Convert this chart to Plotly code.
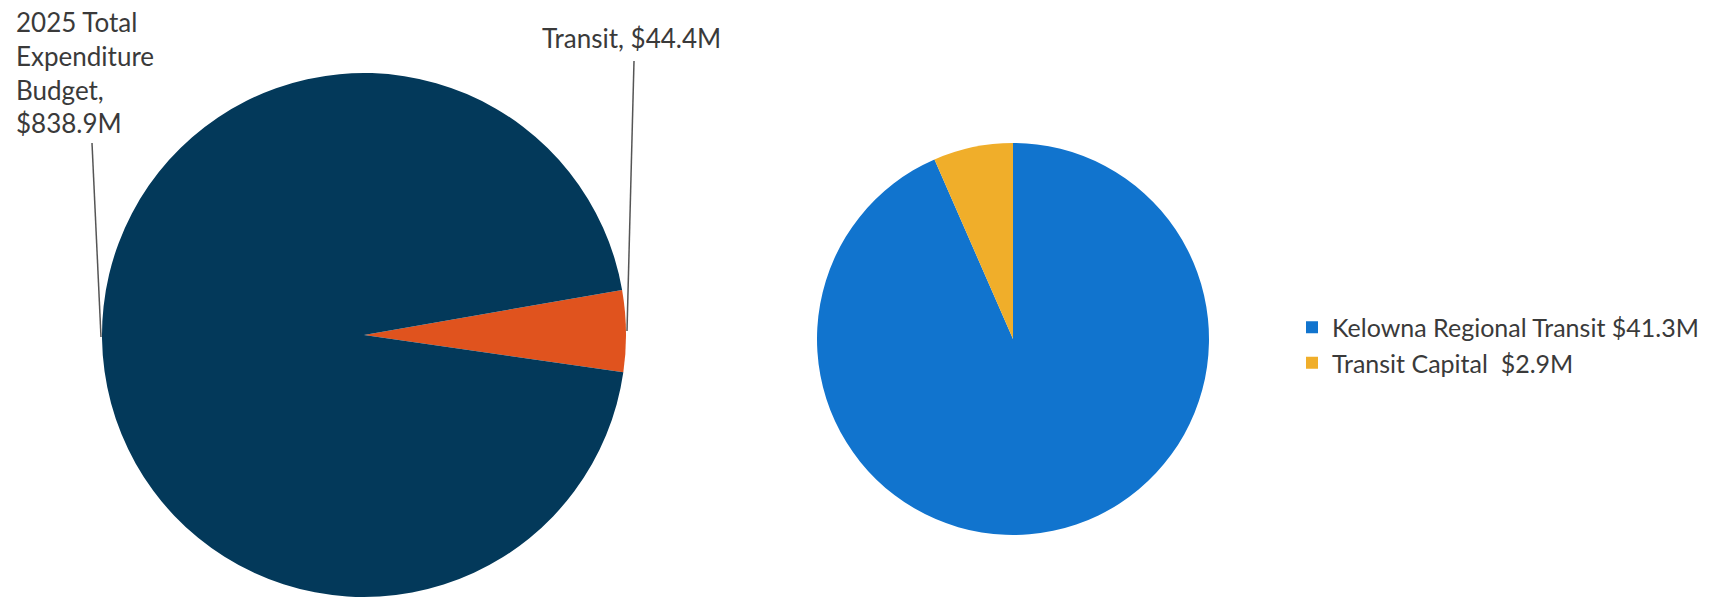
import textwrap
import plotly.graph_objects as go

# ---- data ----
budget_labels = ["Transit", "2025 Total Expenditure Budget"]
budget_values = [44.4, 838.9]
budget_colors = ["#E0531E", "#03395A"]

transit_labels = ["Kelowna Regional Transit", "Transit Capital "]
transit_values = [41.3, 2.9]
transit_colors = ["#1174CE", "#F0AE2A"]

W, H = 1730, 598
FONT = "Lato, 'Open Sans', sans-serif"
TXT = "#3a3a3a"

def px(x):
    return x / W

def py(y):
    return 1 - y / H

fig = go.Figure()

fig.add_trace(go.Pie(
    labels=budget_labels, values=budget_values,
    marker=dict(colors=budget_colors, line=dict(width=0)),
    sort=False, direction="clockwise", rotation=80.1,
    textinfo="none", showlegend=False, hoverinfo="label+value",
    domain=dict(x=[px(364 - 262), px(364 + 262)], y=[py(597), py(73)]),
))

fig.add_trace(go.Pie(
    labels=[f"{l} ${v}M".replace("  ", "\u00a0 ") for l, v in zip(transit_labels, transit_values)],
    values=transit_values,
    marker=dict(colors=transit_colors, line=dict(width=0)),
    sort=False, direction="clockwise", rotation=0,
    textinfo="none", showlegend=True, hoverinfo="label+value",
    domain=dict(x=[px(1013 - 196), px(1013 + 196)], y=[py(535), py(143)]),
))

def lab(i):
    return f"{budget_labels[i]}, ${budget_values[i]}M"

left_text = "<br>".join(textwrap.wrap(lab(1), 11))

fig.add_annotation(text=left_text, x=px(14), y=py(4), xref="paper", yref="paper",
                   xanchor="left", yanchor="top", align="left", showarrow=False,
                   font=dict(family=FONT, size=26, color=TXT))
fig.add_annotation(text=lab(0), x=px(631), y=py(38), xref="paper", yref="paper",
                   xanchor="center", yanchor="middle", showarrow=False,
                   font=dict(family=FONT, size=26, color=TXT))

for (x0, y0, x1, y1) in [(92, 143, 101, 337), (634, 61, 627, 331)]:
    fig.add_shape(type="line", xref="paper", yref="paper",
                  x0=px(x0), y0=py(y0), x1=px(x1), y1=py(y1),
                  line=dict(color="#555555", width=1.5))

fig.update_layout(
    width=W, height=H,
    margin=dict(l=0, r=0, t=0, b=0),
    paper_bgcolor="white", plot_bgcolor="white",
    font=dict(family=FONT, color=TXT),
    legend=dict(x=px(1292), y=py(345), xanchor="left", yanchor="middle",
                font=dict(family=FONT, size=25, color=TXT),
                traceorder="normal", itemclick=False),
)

fig.write_html("out.html")
